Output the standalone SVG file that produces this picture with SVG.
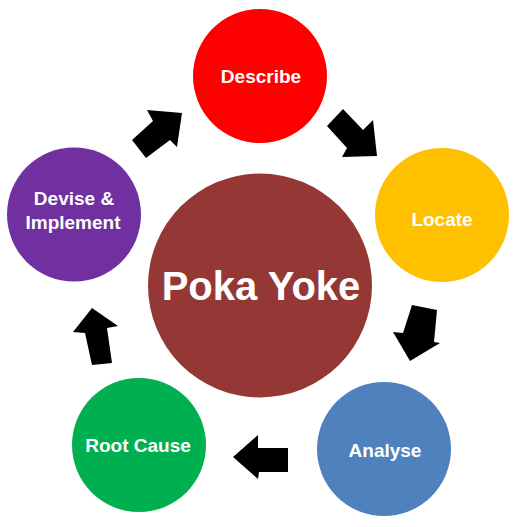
<svg xmlns="http://www.w3.org/2000/svg" width="521" height="527" viewBox="0 0 521 527">
<style>
text{font-family:"Liberation Sans",Arial,sans-serif;font-weight:bold;fill:#fff;text-anchor:middle}
.lbl{font-size:19px}
.arr{fill:#000}
</style>
<rect width="521" height="527" fill="#fff"/>
<g id="poka-yoke"><circle cx="260" cy="285.5" r="112" fill="#953735"/><text x="261" y="300" style="font-size:40px">Poka Yoke</text></g>
<g id="describe"><circle cx="260" cy="76" r="67" fill="#ff0000"/><text class="lbl" x="261" y="82.5">Describe</text></g>
<g id="locate"><circle cx="442" cy="215" r="67" fill="#ffc000"/><text class="lbl" x="442" y="225.5">Locate</text></g>
<g id="analyse"><circle cx="384" cy="449" r="67" fill="#4f81bd"/><text class="lbl" x="385" y="457">Analyse</text></g>
<g id="root-cause"><circle cx="139" cy="445" r="67" fill="#00b050"/><text class="lbl" x="138" y="452">Root Cause</text></g>
<g id="devise"><circle cx="74" cy="214.5" r="67" fill="#7030a0"/><text class="lbl" x="74" y="205">Devise &amp;</text><text class="lbl" x="73" y="228.5">Implement</text></g>
<g id="connectors">
<polygon class="arr" points="182,113 177,147 170,140 146,158 132,140 153,121 147,110"/>
<polygon class="arr" points="343,109 363,130 373,120 377,156 342,157 347,148 327,126"/>
<polygon class="arr" points="412,305 437,310 434,342 440,343 410,361 393,332 403,333"/>
<polygon class="arr" points="233,457 258,435 258,448 288,448 288,472 259,472 258,479"/>
<polygon class="arr" points="92,308 118,326 107,328 112,363 92,365 85,333 73,332"/>
</g>
</svg>
